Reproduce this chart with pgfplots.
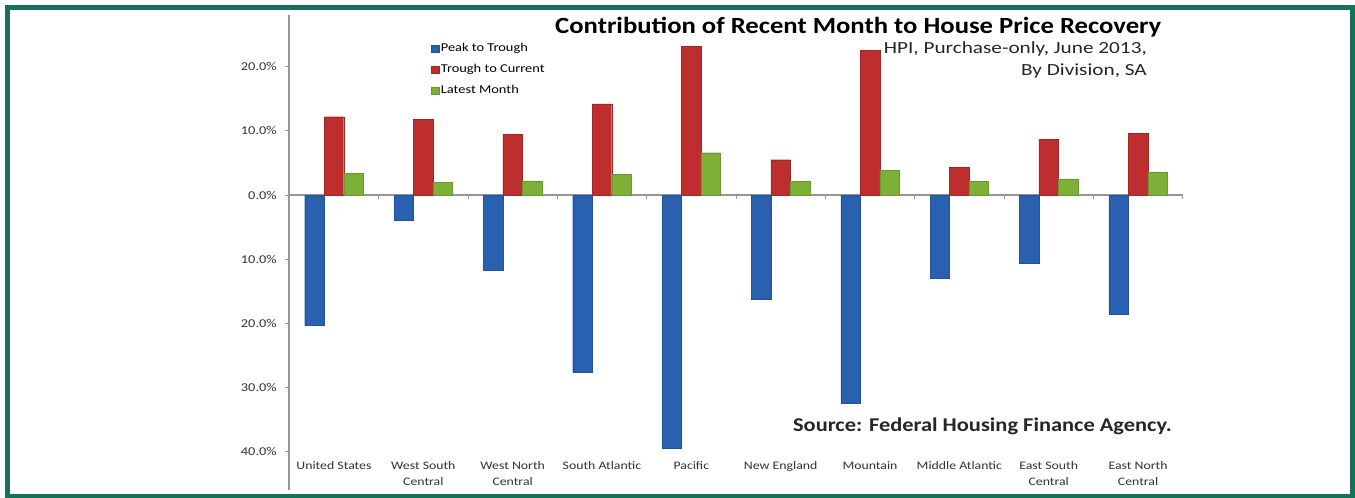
\documentclass[border=0pt]{standalone}
\usepackage{pgfplots}
\pgfplotsset{compat=1.18}
\usepackage{fontspec}
\setmainfont{Carlito}
\newfontfamily\cf[FakeStretch=1.2]{Carlito}
\newfontfamily\cft[FakeStretch=1.15]{Carlito}
\newfontfamily\cfs[FakeStretch=1.25]{Carlito}
\definecolor{framec}{RGB}{22,115,90}
\definecolor{cblue}{RGB}{42,96,176}
\definecolor{cred}{RGB}{190,46,46}
\definecolor{cgreen}{RGB}{126,176,56}
\definecolor{axgray}{RGB}{150,150,150}
\begin{document}
\begin{tikzpicture}[x=1pt,y=1pt]
\path[use as bounding box] (0,0) rectangle (1355,498);
\fill[white] (0,0) rectangle (1355,498);
\begin{axis}[at={(289.3pt,7.7pt)}, anchor=south west, scale only axis,
  width=893.4pt, height=475pt,
  xmin=-0.5, xmax=9.5, ymin=-46, ymax=28,
  ybar=0pt, bar width=19.5pt, clip=false,
  axis x line=middle, axis y line=left,
  x axis line style={-, draw=axgray, line width=1.3pt},
  y axis line style={-, draw=axgray, line width=1.8pt},
  xtick={-0.5,0.5,...,9.5}, xticklabels={},
  ytick={-40,-30,-20,-10,0,10,20},
  yticklabels={40.0\%,30.0\%,20.0\%,10.0\%,0.0\%,10.0\%,20.0\%},
  tick style={axgray, line width=0.8pt}, major tick length=4pt, tick align=outside,
  yticklabel style={font=\cf\fontsize{12}{14}\selectfont, xshift=-5pt, text=black!80},
  legend style={at={(0.1585,0.945)}, anchor=north west, draw=none, fill=none,
    font=\cf\fontsize{12}{14}\selectfont, row sep=7pt, inner sep=0pt,
    /tikz/every even column/.append style={column sep=1pt}},
  legend image code/.code={\fill[#1] (0pt,-3.5pt) rectangle (7.5pt,3.5pt);},
  legend cell align=left,
]
\addplot[fill=cblue, draw=cblue!85!black, line width=0.3pt] coordinates {
(0,-20.3) (1,-3.9) (2,-11.7) (3,-27.6) (4,-39.5) (5,-16.2) (6,-32.5) (7,-12.9) (8,-10.6) (9,-18.6)};
\addplot[fill=cred, draw=cred!85!black, line width=0.3pt] coordinates {
(0,12.2) (1,11.8) (2,9.5) (3,14.2) (4,23.2) (5,5.5) (6,22.5) (7,4.3) (8,8.7) (9,9.6)};
\addplot[fill=cgreen, draw=cgreen!85!black, line width=0.3pt] coordinates {
(0,3.4) (1,2.0) (2,2.2) (3,3.2) (4,6.6) (5,2.1) (6,3.8) (7,2.1) (8,2.5) (9,3.6)};
\legend{Peak to Trough, Trough to Current, Latest Month}
\begin{scope}[every node/.style={anchor=north, align=center, font=\cf\fontsize{11.5}{16}\selectfont, text=black!80}]
\node at (axis cs:0,-40.9) {United States};
\node at (axis cs:1,-40.9) {West South\\Central};
\node at (axis cs:2,-40.9) {West North\\Central};
\node at (axis cs:3,-40.9) {South Atlantic};
\node at (axis cs:4,-40.9) {Pacific};
\node at (axis cs:5,-40.9) {New England};
\node at (axis cs:6,-40.9) {Mountain};
\node at (axis cs:7,-40.9) {Middle Atlantic};
\node at (axis cs:8,-40.9) {East South\\Central};
\node at (axis cs:9,-40.9) {East North\\Central};
\end{scope}
\end{axis}
\node[anchor=west, font=\cft\bfseries\fontsize{23.2}{27}\selectfont, inner sep=0pt] at (555,471) {Contribution of Recent Month to House Price Recovery};
\node[anchor=north east, align=right, font=\cfs\fontsize{17}{22}\selectfont, inner sep=0pt, text=black!85] at (1147,456) {HPI, Purchase-only, June 2013,\\By Division, SA};
\node[anchor=east, font=\cft\bfseries\fontsize{19.5}{22}\selectfont, inner sep=0pt, text=black!85] at (1172,72) {Source: Federal Housing Finance Agency.};
\draw[framec, line width=5.5pt] (7.5,1.5) rectangle (1352.5,490.3);
\end{tikzpicture}
\end{document}
